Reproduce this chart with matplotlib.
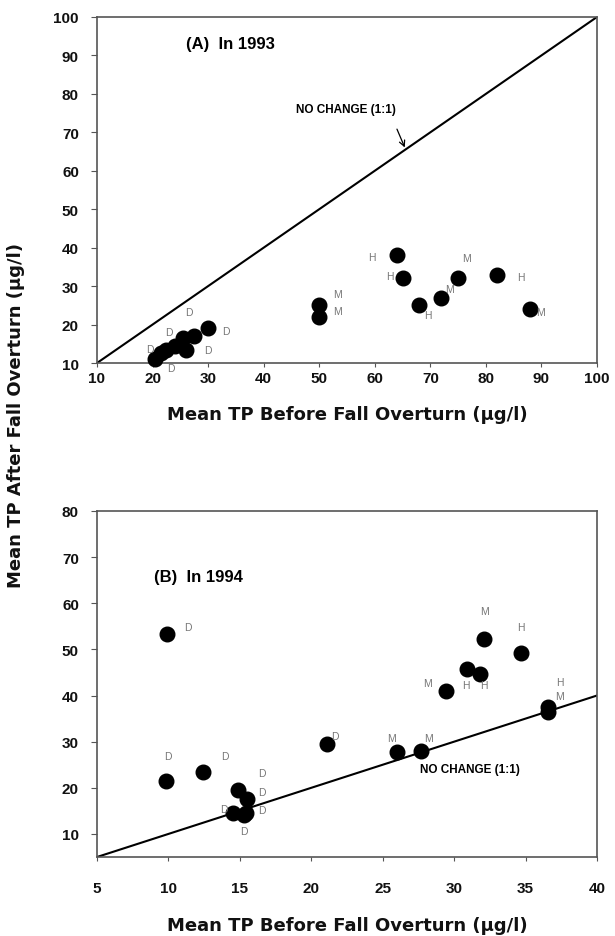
import matplotlib
matplotlib.use("Agg")
import matplotlib.pyplot as plt

plt.rcParams['font.family'] = ['Liberation Sans', 'DejaVu Sans']

# ---------------- data ----------------
# Panel A (1993)
a_x = [20.5, 21.5, 22.5, 24.0, 26.0, 25.5, 27.5, 30.0, 50.0, 50.0, 64.0, 65.0, 68.0, 72.0, 75.0, 82.0, 88.0]
a_y = [11.0, 12.5, 13.5, 14.5, 13.5, 16.5, 17.0, 19.0, 25.0, 22.0, 38.0, 32.0, 25.0, 27.0, 32.0, 33.0, 24.0]
a_lab = ['D', 'D', 'D', '', 'D', 'D', '', 'D', 'M', 'M', 'H', 'H', 'H', 'M', 'M', 'H', 'M']
a_xticks = [10, 20, 30, 40, 50, 60, 70, 80, 90, 100]
a_yticks = [10, 20, 30, 40, 50, 60, 70, 80, 90, 100]

# Panel B (1994)
b_x = [9.9, 21.1, 9.8, 12.4, 14.9, 15.5, 15.4, 14.5, 15.3, 26.0, 27.7, 29.4, 30.9, 31.8, 32.1, 34.7, 36.6, 36.6]
b_y = [53.3, 29.5, 21.5, 23.5, 19.5, 17.5, 14.5, 14.5, 14.0, 27.7, 28.0, 41.0, 45.8, 44.7, 52.3, 49.2, 37.5, 36.5]
b_lab = ['D', 'D', 'D', 'D', 'D', 'D', 'D', 'D', 'D', 'M', 'M', 'M', 'H', 'H', 'M', 'H', 'H', 'M']
b_xticks = [5, 10, 15, 20, 25, 30, 35, 40]
b_yticks = [10, 20, 30, 40, 50, 60, 70, 80]

# label offsets (points) -- styling only
a_off = [(11, -6), (-8, 3), (2, 13), (0, 0), (16, 0), (4, 19), (0, 0), (13, -2), (13, 8), (13, 4),
         (-18, -1), (-9, 2), (6, -7), (6, 6), (6, 15), (17, -2), (7, -2)]
b_off = [(15, 5), (6, 6), (2, 18), (16, 11), (17, 12), (11, 5), (12, 2), (-6, 3), (0, -11),
         (-4, 10), (5, 9), (-13, 6), (-1, -12), (3, -8), (0, 20), (0, 19), (8, 18), (8, 11)]

fig = plt.figure(figsize=(6.15, 9.37), dpi=100)
ax1 = fig.add_axes([0.1577, 0.6115, 0.813, 0.3693])
ax2 = fig.add_axes([0.1577, 0.0843, 0.813, 0.3693])

spine_col = '#555555'
lab_col = '#777777'
tick_fs = 11
axlab_kw = dict(fontsize=13, fontweight='bold', family=['DejaVu Sans'], color='#111111')


def style(ax, xt, yt, xpad):
    for s in ax.spines.values():
        s.set_color(spine_col)
        s.set_linewidth(1.2)
    ax.set_xticks(xt)
    ax.set_yticks(yt)
    ax.tick_params(axis='x', direction='out', length=3, width=0.8, color=spine_col,
                   pad=xpad, labelsize=tick_fs)
    ax.tick_params(axis='y', direction='out', length=4, width=0.8, color=spine_col,
                   pad=9, labelsize=tick_fs)
    for t in ax.get_xticklabels() + ax.get_yticklabels():
        t.set_fontweight('bold')
        t.set_color('#111111')


# ---- Panel A ----
ax1.set_xlim(10, 100)
ax1.set_ylim(10, 100)
ax1.plot([10, 100], [10, 100], color='black', lw=1.5, zorder=2)
ax1.plot(a_x, a_y, 'o', color='black', ms=10.5, zorder=3, clip_on=False)
for x, y, l, o in zip(a_x, a_y, a_lab, a_off):
    if l:
        ax1.annotate(l, (x, y), xytext=o, textcoords='offset points', ha='center', va='center',
                     fontsize=7.5, color=lab_col, zorder=4, annotation_clip=False)
style(ax1, a_xticks, a_yticks, 3)
ax1.text(26.0, 93, '(A)  In 1993', fontsize=12, fontweight='bold', ha='left', va='center')
ax1.text(45.8, 76, 'NO CHANGE (1:1)', fontsize=8.5, fontweight='bold', ha='left', va='center')
ax1.annotate('', xy=(65.6, 65.4), xytext=(63.8, 71.5),
             arrowprops=dict(arrowstyle='->', color='black', lw=0.9))

# ---- Panel B ----
ax2.set_xlim(5, 40)
ax2.set_ylim(5, 80)
ax2.plot([5, 40], [5, 40], color='black', lw=1.5, zorder=2)
ax2.plot(b_x, b_y, 'o', color='black', ms=10.5, zorder=3, clip_on=False)
for x, y, l, o in zip(b_x, b_y, b_lab, b_off):
    if l:
        ax2.annotate(l, (x, y), xytext=o, textcoords='offset points', ha='center', va='center',
                     fontsize=7.5, color=lab_col, zorder=4, annotation_clip=False)
style(ax2, b_xticks, b_yticks, 14)
ax2.text(9.0, 65.9, '(B)  In 1994', fontsize=12, fontweight='bold', ha='left', va='center')
ax2.text(27.6, 24.1, 'NO CHANGE (1:1)', fontsize=8.5, fontweight='bold', ha='left', va='center')

# ---- axis labels ----
fig.text(0.5643, 0.557, 'Mean TP Before Fall Overturn (µg/l)', ha='center', va='center', **axlab_kw)
fig.text(0.5643, 0.012, 'Mean TP Before Fall Overturn (µg/l)', ha='center', va='center', **axlab_kw)
fig.text(0.026, 0.557, 'Mean TP After Fall Overturn (µg/l)', ha='center', va='center',
         rotation=90, **axlab_kw)

fig.savefig('out.png', dpi=100)
